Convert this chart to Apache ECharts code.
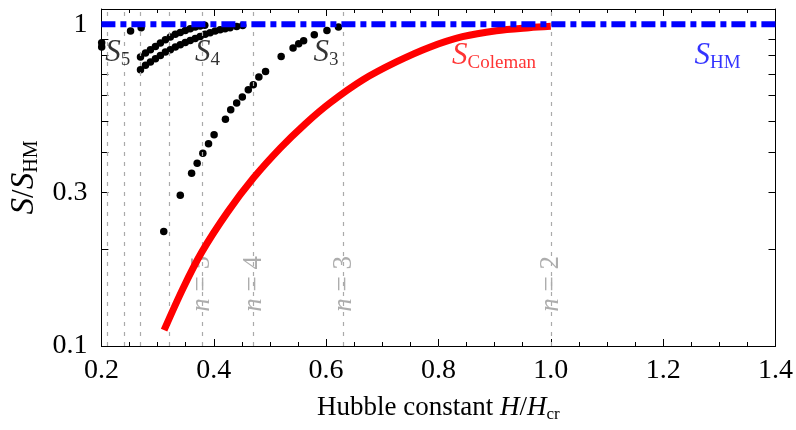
<!DOCTYPE html>
<html><head><meta charset="utf-8">
<script src="https://cdn.jsdelivr.net/npm/echarts@6/dist/echarts.min.js"></script>
<style>html,body{margin:0;padding:0;background:#fff}#c{width:796px;height:430px}</style>
</head><body><div id="c"></div>
<script>
// ---- data ----
const xTickValues = [0.2, 0.4, 0.6, 0.8, 1.0, 1.2, 1.4];
const yTickLabels = [0.1, 0.3, 1];
const yTickValues = [0.1, 0.2, 0.3, 0.4, 0.5, 0.6, 0.7, 0.8, 0.9, 1];
const nValues = [2, 3, 4, 5, 6, 7, 8, 9];
const nH = [1.0, 0.632, 0.471, 0.379, 0.316, 0.272, 0.239, 0.213];
const nLabelled = [2, 3, 4, 5];

const sHM = [[0.2, 1], [1.4, 1]];
const sColeman = [
  [0.3116, 0.1121], [0.3452, 0.151], [0.3789, 0.1961], [0.4249, 0.2611], [0.4709, 0.3331],
  [0.5188, 0.4128], [0.563, 0.4904], [0.6073, 0.570], [0.6657, 0.672], [0.7259, 0.7647],
  [0.7844, 0.8482], [0.8428, 0.9144], [0.903, 0.9545], [0.9615, 0.9752], [1.0, 0.985]
];
const s3 = [
  [0.311, 0.2267], [0.3404, 0.294], [0.3606, 0.344], [0.3705, 0.370], [0.3806, 0.3975],
  [0.3907, 0.4249], [0.4006, 0.4531], [0.4208, 0.5063], [0.4302, 0.542], [0.4408, 0.5687],
  [0.4509, 0.5935], [0.4615, 0.6255], [0.4704, 0.6484], [0.4803, 0.685], [0.4922, 0.713],
  [0.520, 0.794], [0.5412, 0.843], [0.5512, 0.870], [0.560, 0.889], [0.579, 0.927],
  [0.6015, 0.956], [0.622, 0.98]
];
const s4 = [
  [0.2696, 0.722], [0.2785, 0.745], [0.2873, 0.763], [0.2962, 0.781], [0.305, 0.800],
  [0.3139, 0.820], [0.3227, 0.833], [0.3316, 0.849], [0.3404, 0.864], [0.3493, 0.878],
  [0.3581, 0.890], [0.367, 0.903], [0.3758, 0.916], [0.3847, 0.930], [0.3935, 0.941],
  [0.4024, 0.952], [0.4113, 0.961], [0.4201, 0.968], [0.429, 0.975], [0.4408, 0.984], [0.4515, 0.99]
];
const s5 = [
  [0.2696, 0.791], [0.2785, 0.814], [0.2873, 0.833], [0.2962, 0.853], [0.305, 0.874],
  [0.3139, 0.895], [0.3227, 0.912], [0.3316, 0.930], [0.3404, 0.943], [0.3493, 0.956],
  [0.3581, 0.968], [0.367, 0.980], [0.3758, 0.988], [0.384, 0.993]
];
const s6 = [[0.2519, 0.952], [0.2708, 0.975]];
const s7 = [[0.2005, 0.875], [0.2005, 0.85]];

// ---- chart ----
const SERIF = "'Liberation Serif', 'Times New Roman', serif";
const chart = echarts.init(document.getElementById('c'), null, {renderer: 'canvas'});

const dotSeries = (data) => ({
  type: 'scatter', data, symbolSize: 7.5, itemStyle: {color: '#000', opacity: 1}, z: 3, clip: true,
  silent: true
});

const subRich = (color) => ({
  s: {fontFamily: SERIF, fontStyle: 'italic', fontSize: 31, color, lineHeight: 34},
  sub: {fontFamily: SERIF, fontSize: 19, color, lineHeight: 34, verticalAlign: 'bottom', padding: [10, 0, 0, 0]}
});

const annotations = [
  {value: [0.229, 0.815], label: {formatter: '{s|S}{sub|5}', rich: subRich('#000')}},
  {value: [0.389, 0.815], label: {formatter: '{s|S}{sub|4}', rich: subRich('#000')}},
  {value: [0.600, 0.815], label: {formatter: '{s|S}{sub|3}', rich: subRich('#000')}},
  {value: [0.899, 0.80], label: {formatter: '{s|S}{sub|Coleman}', rich: subRich('#ff0000')}},
  {value: [1.297, 0.80], label: {formatter: '{s|S}{sub|HM}', rich: subRich('#0000ff')}}
];

const nLabelData = nLabelled.map(n => ({
  value: [nH[nValues.indexOf(n)], 0.156],
  label: {formatter: '{i|n}{r| = ' + n + '}'}
}));

const xAxisBase = {
  type: 'value', min: 0.2, max: 1.4, interval: 0.2,
  axisLine: {show: true, onZero: false, lineStyle: {color: '#000', width: 1}},
  splitLine: {show: false},
  axisTick: {show: true, inside: true, length: 7, lineStyle: {color: '#000'}},
  minorTick: {show: true, splitNumber: 4, length: 4, lineStyle: {color: '#000'}},
};
const yAxisBase = {
  type: 'log', logBase: 10, min: 0.1, max: 1.115,
  axisLine: {show: true, onZero: false, lineStyle: {color: '#000', width: 1}},
  splitLine: {show: false},
  axisTick: {show: true, inside: true, length: 7, customValues: yTickValues, lineStyle: {color: '#000'}},
  minorTick: {show: false},
};

chart.setOption({
  animation: false,
  backgroundColor: '#fff',
  grid: {left: 100, right: 18, top: 9, bottom: 84, containLabel: false},
  xAxis: [
    Object.assign({}, xAxisBase, {
      position: 'bottom',
      axisLabel: {show: true, margin: 11, fontFamily: SERIF, fontSize: 28, color: '#000',
        customValues: xTickValues, formatter: v => Number(v).toFixed(1)},
      name: '{r|Hubble constant }{i|H}{r|/}{i|H}{sub|cr}',
      nameLocation: 'middle', nameGap: 47,
      nameTextStyle: {rich: {
        r: {fontFamily: SERIF, fontSize: 27, color: '#000', lineHeight: 30},
        i: {fontFamily: SERIF, fontStyle: 'italic', fontSize: 27, color: '#000', lineHeight: 30},
        sub: {fontFamily: SERIF, fontSize: 17, color: '#000', lineHeight: 30, verticalAlign: 'bottom', padding: [9, 0, 0, 0]}
      }}
    }),
    Object.assign({}, xAxisBase, {position: 'top', axisLabel: {show: false}})
  ],
  yAxis: [
    Object.assign({}, yAxisBase, {
      position: 'left',
      axisLabel: {show: true, margin: 14, fontFamily: SERIF, fontSize: 28, color: '#000',
        customValues: yTickLabels, formatter: v => String(+Number(v).toPrecision(3))},
      name: '{s|S}{r|/}{s|S}{sub|HM}',
      nameLocation: 'middle', nameGap: 56,
      nameTextStyle: {rich: {
        r: {fontFamily: SERIF, fontSize: 31, color: '#000', lineHeight: 34},
        s: {fontFamily: SERIF, fontStyle: 'italic', fontSize: 33, color: '#000', lineHeight: 34},
        sub: {fontFamily: SERIF, fontSize: 20, color: '#000', lineHeight: 34, verticalAlign: 'bottom', padding: [10, 0, 0, 0]}
      }}
    }),
    Object.assign({}, yAxisBase, {position: 'right', axisLabel: {show: false}})
  ],
  series: [
    {
      type: 'line', data: [], silent: true,
      markLine: {
        silent: true, symbol: 'none', animation: false,
        label: {show: false},
        lineStyle: {color: '#aaaaaa', width: 1.2, type: [4, 6]},
        data: nH.map(h => ({xAxis: h}))
      }
    },
    {
      type: 'scatter', data: nLabelData, symbolSize: 0, silent: true, z: 4,
      label: {show: true, position: 'inside', align: 'center', verticalAlign: 'middle', rotate: 90,
        color: '#999999', backgroundColor: '#fff', padding: [0, 3],
        rich: {
          i: {fontFamily: SERIF, fontStyle: 'italic', fontSize: 27, color: '#999999', lineHeight: 28},
          r: {fontFamily: SERIF, fontSize: 27, color: '#999999', lineHeight: 28}
        }}
    },
    {
      type: 'line', data: sColeman, smooth: 0.3, showSymbol: false, silent: true, z: 5,
      lineStyle: {color: '#ff0000', width: 7, cap: 'butt'}
    },
    dotSeries(s3), dotSeries(s4), dotSeries(s5), dotSeries(s6), dotSeries(s7),
    {
      type: 'line', data: sHM, showSymbol: false, silent: true, z: 6,
      lineStyle: {color: '#0000ff', width: 6, type: [14, 5, 6, 5], cap: 'butt'}
    },
    {
      type: 'scatter', data: annotations, symbolSize: 0, silent: true, z: 7,
      label: {show: true, position: 'inside'}
    }
  ]
});
</script></body></html>
